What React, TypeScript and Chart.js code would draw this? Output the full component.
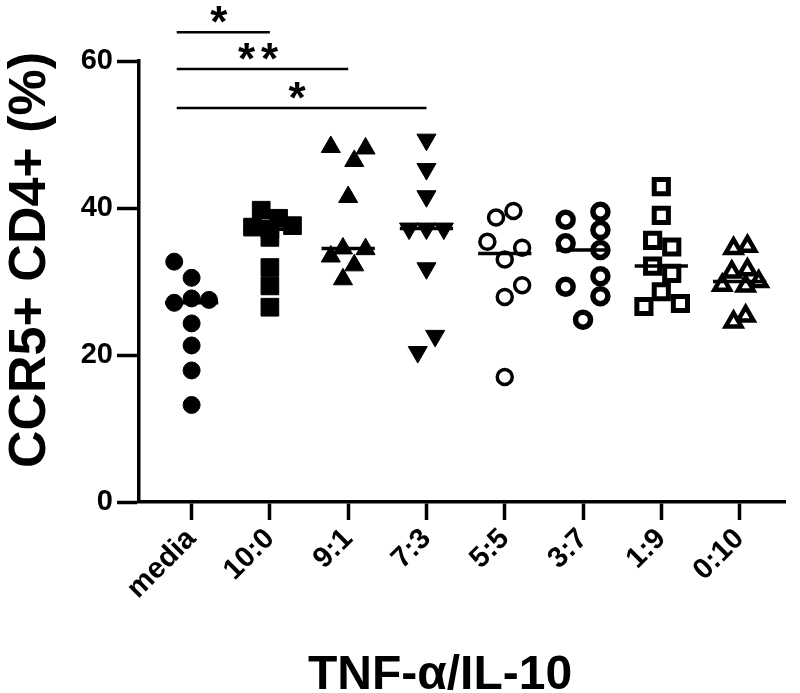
import React, { useEffect, useRef } from 'react';
import { Chart, registerables } from 'chart.js';

Chart.register(...registerables);

// ---------- data ----------
const categories = ['media', '10:0', '9:1', '7:3', '5:5', '3:7', '1:9', '0:10'];
const yTicks = [0, 20, 40, 60];

const mediaValues = [32.7, 30.5, 27.1, 27.7, 27.5, 24.3, 21.3, 17.9, 13.2];
const mediaJitter = [-1, 0, -1, 0, 1, 0, 0, 0, 0];

const r10to0Values = [39.7, 38.6, 37.6, 37.4, 37.1, 36.0, 31.9, 29.4, 26.5];
const r10to0Jitter = [-0.5, 0.5, 1.3, -1, 0, 0, 0, 0, 0];

const r9to1Values = [48.3, 48.1, 46.4, 41.5, 34.5, 34.4, 33.4, 32.2, 30.3];
const r9to1Jitter = [-1, 1, 0.35, 0, -0.3, 1, -1, 0.35, -0.3];

const r7to3Values = [49.3, 45.3, 41.6, 37.2, 37.2, 37.2, 31.8, 22.6, 20.4];
const r7to3Jitter = [0, 0, 0, -1, 0, 1, 0, 0.5, -0.5];

const r5to5Values = [39.6, 38.7, 35.4, 34.6, 33.0, 29.5, 27.9, 17.0];
const r5to5Jitter = [0.5, -0.5, -1, 1, 0, 1, 0, 0];

const r3to7Values = [39.5, 38.4, 37.0, 35.2, 34.3, 30.7, 29.3, 28.0, 24.8];
const r3to7Jitter = [1, -1, 1, -1, 1, 1, -1, 1, 0];

const r1to9Values = [42.9, 39.0, 35.6, 34.7, 32.1, 31.1, 28.6, 27.0, 26.6];
const r1to9Jitter = [0, 0, -0.5, 0.6, -0.5, 0.6, 0, 1.1, -1];

const r0to10Values = [34.8, 34.5, 31.6, 31.3, 30.0, 29.5, 29.4, 25.3, 24.5];
const r0to10Jitter = [0.45, -0.35, 0.45, -0.45, 1.1, -1, 0.35, 0.35, -0.35];

// significance annotations (compared against "media")
const sigFrom = -0.19;
const sigTargets = [1, 2, 3];
const sigLabels = ['*', '**', '*'];
const sigLevels = [63.9, 58.9, 53.6];

const xTitle = 'TNF-α/IL-10';
const yTitle = 'CCR5+ CD4+ (%)';

// ---------- helpers ----------
const FAMILY = '"Liberation Sans", Arial, Helvetica, sans-serif';

function median(arr: number[]) {
  const s = [...arr].sort((a, b) => a - b);
  const n = s.length;
  return n % 2 ? s[(n - 1) / 2] : (s[n / 2 - 1] + s[n / 2]) / 2;
}

const groupStyles = [
  { style: 'circle', radius: 8.5, fill: '#000', border: 1, rotation: 0 },
  { style: 'rect', radius: 12.5, fill: '#000', border: 1, rotation: 0 },
  { style: 'triangle', radius: 11, fill: '#000', border: 1, rotation: 0 },
  { style: 'triangle', radius: 11, fill: '#000', border: 1, rotation: 180 },
  { style: 'circle', radius: 7.5, fill: '#fff', border: 3.5, rotation: 0 },
  { style: 'circle', radius: 7.5, fill: '#fff', border: 5.5, rotation: 0 },
  { style: 'rect', radius: 10, fill: '#fff', border: 5, rotation: 0 },
  { style: 'triangle', radius: 9, fill: '#fff', border: 4.5, rotation: 0 },
];

const groupValues = [mediaValues, r10to0Values, r9to1Values, r7to3Values, r5to5Values, r3to7Values, r1to9Values, r0to10Values];
const groupJitter = [mediaJitter, r10to0Jitter, r9to1Jitter, r7to3Jitter, r5to5Jitter, r3to7Jitter, r1to9Jitter, r0to10Jitter];

const annotationPlugin = {
  id: 'annotations',
  afterDraw(chart: any) {
    const ctx = chart.ctx as CanvasRenderingContext2D;
    const xs = chart.scales.x;
    const ys = chart.scales.y;
    ctx.save();
    ctx.strokeStyle = '#000';
    ctx.fillStyle = '#000';
    // significance bars
    sigTargets.forEach((t, i) => {
      const y = ys.getPixelForValue(sigLevels[i]);
      const x0 = xs.getPixelForValue(sigFrom);
      const x1 = xs.getPixelForValue(t);
      ctx.lineWidth = 2.5;
      ctx.beginPath();
      ctx.moveTo(x0, y);
      ctx.lineTo(x1, y);
      ctx.stroke();
      ctx.font = `bold 44px ${FAMILY}`;
      (ctx as any).letterSpacing = '6px';
      ctx.textAlign = 'left';
      ctx.textBaseline = 'alphabetic';
      const m = ctx.measureText(sigLabels[i]);
      const inkW = m.actualBoundingBoxLeft + m.actualBoundingBoxRight;
      const cx = (x0 + x1) / 2 - 4;
      const cy = y - 18;
      const drawX = cx - inkW / 2 + m.actualBoundingBoxLeft;
      const drawY = cy - (m.actualBoundingBoxDescent - m.actualBoundingBoxAscent) / 2;
      ctx.fillText(sigLabels[i], drawX, drawY);
      (ctx as any).letterSpacing = '0px';
    });
    // axis titles
    ctx.font = `bold 48px ${FAMILY}`;
    ctx.textAlign = 'center';
    ctx.textBaseline = 'alphabetic';
    ctx.fillText(xTitle, 440, 689);
    ctx.save();
    ctx.font = `bold 52px ${FAMILY}`;
    ctx.translate(45, 260);
    ctx.rotate(-Math.PI / 2);
    ctx.fillText(yTitle, 0, 0);
    ctx.restore();
    ctx.restore();
  },
};

export default function App() {
  const ref = useRef<HTMLCanvasElement>(null);
  useEffect(() => {
    if (!ref.current) return;
    const JIT = 0.222; // one marker width in category units
    const datasets: any[] = [];
    groupValues.forEach((vals, gi) => {
      const st = groupStyles[gi];
      datasets.push({
        type: 'line',
        label: categories[gi] + ' median',
        data: [
          { x: gi - 0.34, y: median(vals) },
          { x: gi + 0.34, y: median(vals) },
        ],
        borderColor: '#000',
        borderWidth: 3.5,
        pointRadius: 0,
        fill: false,
        order: 1,
      });
      datasets.push({
        type: 'scatter',
        label: categories[gi],
        data: vals.map((v, k) => ({ x: gi + groupJitter[gi][k] * JIT, y: v })),
        pointStyle: st.style,
        pointRadius: st.radius,
        pointRotation: st.rotation,
        backgroundColor: st.fill,
        borderColor: '#000',
        borderWidth: st.border,
        order: 2,
        clip: false,
      });
    });

    const chart = new Chart(ref.current, {
      type: 'scatter',
      data: { datasets },
      plugins: [annotationPlugin],
      options: {
        animation: false,
        responsive: false,
        events: [],
        layout: { padding: { top: 61, right: 10, left: 0, bottom: 0 } },
        plugins: { legend: { display: false }, tooltip: { enabled: false } },
        scales: {
          x: {
            type: 'linear',
            min: -0.672,
            max: 7.58,
            afterBuildTicks: (s: any) => {
              s.ticks = categories.map((_, i) => ({ value: i }));
            },
            afterFit: (s: any) => {
              s.height = 191;
            },
            grid: { drawOnChartArea: false, drawTicks: true, tickLength: 18, tickWidth: 3.5, tickColor: '#000' },
            border: { display: true, color: '#000', width: 3.5 },
            ticks: {
              callback: (v: any) => categories[v] ?? '',
              minRotation: 45,
              maxRotation: 45,
              autoSkip: false,
              padding: 2,
              color: '#000',
              font: { family: FAMILY, size: 29, weight: 'bold' },
            },
          },
          y: {
            type: 'linear',
            min: 0,
            max: 60,
            afterBuildTicks: (s: any) => {
              s.ticks = yTicks.map((v) => ({ value: v }));
            },
            afterFit: (s: any) => {
              s.width = 139;
            },
            grid: { drawOnChartArea: false, drawTicks: true, tickLength: 22, tickWidth: 3.5, tickColor: '#000' },
            border: { display: true, color: '#000', width: 3.5 },
            ticks: {
              padding: 4,
              color: '#000',
              font: { family: FAMILY, size: 29, weight: 'bold' },
            },
          },
        },
      } as any,
    });
    return () => chart.destroy();
  }, []);

  return (
    <div style={{ position: 'absolute', left: 0, top: 0, width: 800, height: 693, background: '#fff' }}>
      <canvas ref={ref} width={800} height={693} style={{ display: 'block' }} />
    </div>
  );
}
